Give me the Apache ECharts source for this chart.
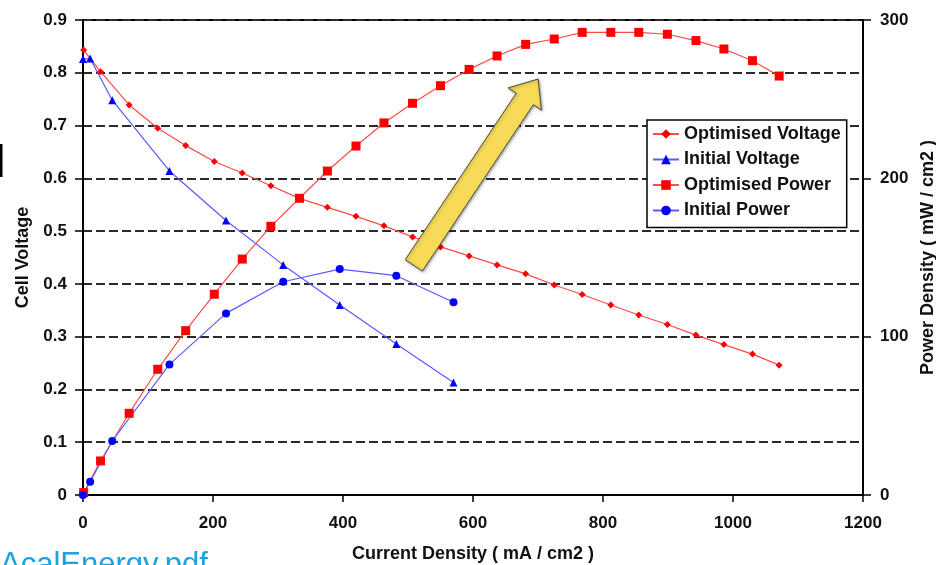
<!DOCTYPE html>
<html>
<head>
<meta charset="utf-8">
<style>
  html, body { margin: 0; padding: 0; background: #fff; }
  #chart { width: 936px; height: 565px; }
</style>
<script src="https://cdn.jsdelivr.net/npm/echarts@6/dist/echarts.min.js"></script>
</head>
<body>
<div id="chart"></div>
<script>
// Current density (mA/cm2) at each measured point
const currentOptimised = [1, 27, 71, 115, 158, 202, 245, 289, 333, 376, 420, 463, 507, 550, 594, 637, 681, 725, 768, 812, 855, 899, 943, 986, 1030, 1071];
const currentInitial = [0, 11, 45, 133, 220, 308, 395, 482, 570];

// Cell voltage (V)
const voltageOptimised = [0.843, 0.802, 0.739, 0.695, 0.662, 0.632, 0.610, 0.586, 0.562, 0.545, 0.528, 0.510, 0.489, 0.470, 0.453, 0.436, 0.419, 0.398, 0.380, 0.360, 0.341, 0.323, 0.303, 0.285, 0.267, 0.246];
const voltageInitial = [0.826, 0.827, 0.748, 0.614, 0.520, 0.436, 0.360, 0.286, 0.213];

// Power density (mW/cm2)
const powerOptimised = [1.5, 21.5, 51.6, 79.4, 103.8, 126.8, 149, 169.7, 187.4, 204.6, 220.4, 235, 247.4, 258.5, 268.8, 277.3, 284.6, 288, 292.2, 292.2, 292.2, 291, 287, 281.7, 274.3, 264.6];
const powerInitial = [0, 8.4, 34.1, 82.5, 114.7, 134.7, 142.7, 138.5, 121.7];

// Series names
const seriesNames = ['Optimised Voltage', 'Initial Voltage', 'Optimised Power', 'Initial Power'];

const pairs = (xs, ys) => xs.map((x, i) => [x, ys[i]]);

const FONT = '"Liberation Sans", Arial, sans-serif';
const RED_LINE = '#ff4a4a', RED = '#ff0000';
const BLUE_LINE = '#5a5aff', BLUE = '#0000ff';

// Yellow block arrow (annotation), built from tail centre, direction and widths
function arrowPoints() {
  const tail = [413.8, 265.4];
  const u = [0.555, -0.832];
  const n = [0.832, 0.555];
  const shaftLen = 200, headLen = 24, halfShaft = 10.3, halfHead = 20;
  const p = (a, b) => [tail[0] + u[0] * a + n[0] * b, tail[1] + u[1] * a + n[1] * b];
  return [
    p(0, -halfShaft), p(shaftLen, -halfShaft), p(shaftLen, -halfHead),
    p(shaftLen + headLen, 0),
    p(shaftLen, halfHead), p(shaftLen, halfShaft), p(0, halfShaft)
  ];
}

const chart = echarts.init(document.getElementById('chart'), null, { renderer: 'canvas' });

const plain = v => String(v);
const axisText = { color: '#111', fontFamily: FONT, fontWeight: 'bold', fontSize: 17, formatter: plain };
const nameText = { color: '#111', fontFamily: FONT, fontWeight: 'bold', fontSize: 18 };

chart.setOption({
  animation: false,
  backgroundColor: '#fff',
  grid: {
    left: 83, right: 73, top: 20, bottom: 70,
    outerBoundsMode: 'none', containLabel: false,
    show: true, borderColor: '#000', borderWidth: 2, backgroundColor: 'transparent'
  },
  legend: {
    data: seriesNames,
    orient: 'vertical',
    left: 647, top: 120,
    padding: [5, 6, 8, 5],
    itemGap: 7.5,
    itemWidth: 26, itemHeight: 12,
    backgroundColor: '#fff',
    borderColor: '#000', borderWidth: 1.5,
    textStyle: { color: '#111', fontFamily: FONT, fontWeight: 'bold', fontSize: 18, lineHeight: 18 }
  },
  xAxis: {
    type: 'value', min: 0, max: 1200, interval: 200,
    name: 'Current Density ( mA / cm2 )',
    nameLocation: 'middle', nameGap: 50, nameTextStyle: nameText,
    axisLine: { show: true, lineStyle: { color: '#000', width: 2 } },
    axisTick: { show: true, length: 7, lineStyle: { color: '#000', width: 1.5 } },
    axisLabel: Object.assign({ margin: 20 }, axisText),
    splitLine: { show: false }
  },
  yAxis: [
    {
      type: 'value', min: 0, max: 0.9, interval: 0.1,
      name: 'Cell Voltage', nameLocation: 'middle', nameGap: 50, nameRotate: 90,
      nameTextStyle: nameText,
      axisLine: { show: true, lineStyle: { color: '#000', width: 2 } },
      axisTick: { show: true, length: 8, lineStyle: { color: '#000', width: 1.5 } },
      axisLabel: Object.assign({ margin: 16 }, axisText),
      splitLine: { show: true, lineStyle: { color: '#2a2a2a', width: 2, type: [9, 4] } }
    },
    {
      type: 'value', min: 0, max: 300, interval: 100, position: 'right',
      name: 'Power Density ( mW / cm2 )', nameLocation: 'middle', nameGap: 55, nameRotate: 90,
      nameTextStyle: nameText,
      axisLine: { show: true, lineStyle: { color: '#000', width: 2 } },
      axisTick: { show: true, length: 8, lineStyle: { color: '#000', width: 1.5 } },
      axisLabel: Object.assign({ margin: 17 }, axisText),
      splitLine: { show: false }
    }
  ],
  series: [
    {
      name: seriesNames[0], type: 'line', yAxisIndex: 0,
      data: pairs(currentOptimised, voltageOptimised),
      symbol: 'diamond', symbolSize: 7,
      lineStyle: { color: RED_LINE, width: 1.2 },
      itemStyle: { color: RED }
    },
    {
      name: seriesNames[1], type: 'line', yAxisIndex: 0,
      data: pairs(currentInitial, voltageInitial),
      symbol: 'triangle', symbolSize: 8,
      lineStyle: { color: BLUE_LINE, width: 1.2 },
      itemStyle: { color: BLUE }
    },
    {
      name: seriesNames[2], type: 'line', yAxisIndex: 1,
      data: pairs(currentOptimised, powerOptimised),
      symbol: 'rect', symbolSize: 9,
      lineStyle: { color: RED_LINE, width: 1.2 },
      itemStyle: { color: RED }
    },
    {
      name: seriesNames[3], type: 'line', yAxisIndex: 1,
      data: pairs(currentInitial, powerInitial),
      symbol: 'circle', symbolSize: 8,
      lineStyle: { color: BLUE_LINE, width: 1.2 },
      itemStyle: { color: BLUE }
    }
  ],
  graphic: [
    {
      type: 'polygon', z: 100,
      shape: { points: arrowPoints() },
      style: {
        fill: '#f6da58', stroke: '#4a4a3a', lineWidth: 1,
        shadowBlur: 3, shadowColor: 'rgba(0,0,0,0.35)', shadowOffsetX: 1, shadowOffsetY: 1
      }
    },
    {
      type: 'rect', z: 100,
      shape: { x: 0, y: 144, width: 2.5, height: 33 },
      style: { fill: '#000' }
    },
    {
      type: 'text', z: 100,
      style: {
        text: 'AcalEnergy.pdf', x: 0, y: 565,
        font: '31px ' + FONT, fill: '#1ca3df',
        align: 'left', verticalAlign: 'middle'
      }
    }
  ]
});
</script>
</body>
</html>
